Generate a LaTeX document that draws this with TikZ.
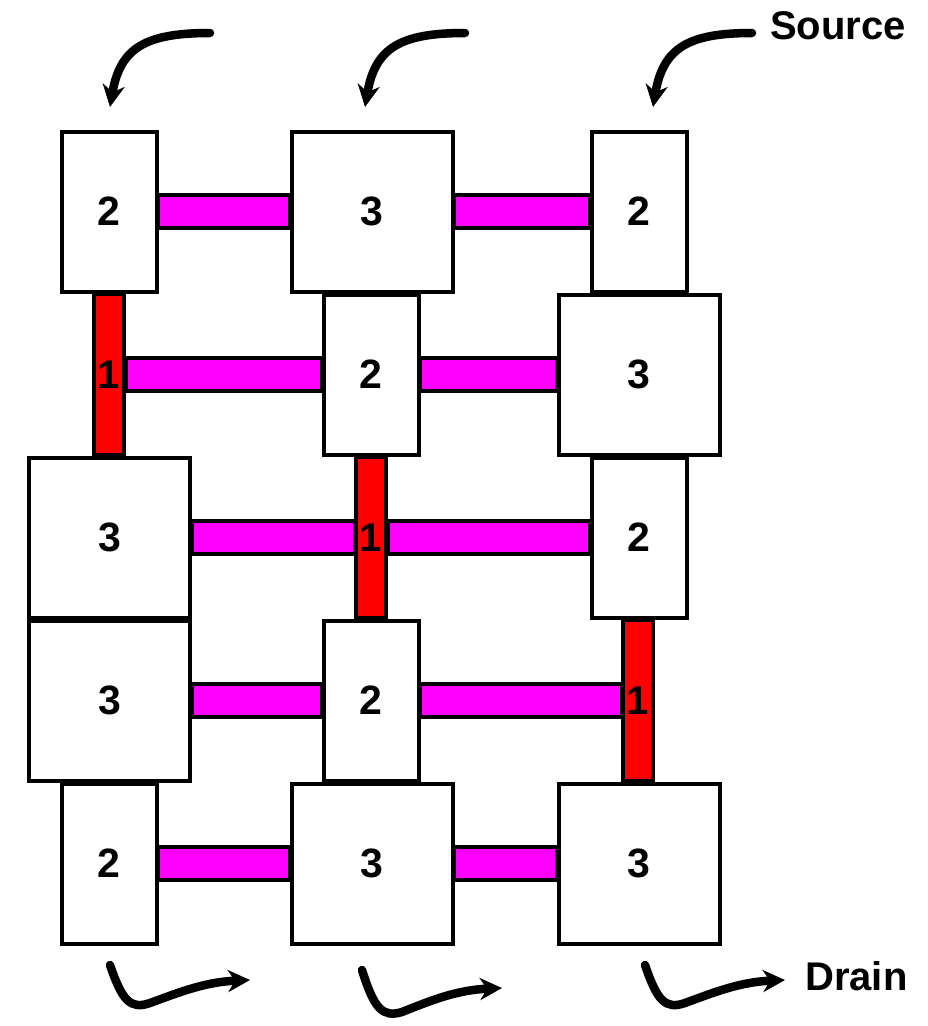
\documentclass[tikz,border=0pt]{standalone}
\usepackage{fontspec}
\setmainfont{Liberation Sans}
\usetikzlibrary{arrows.meta,calc,backgrounds}
\definecolor{magfill}{RGB}{255,0,255}
\definecolor{redfill}{RGB}{255,0,0}
\begin{document}
\begin{tikzpicture}[x=1pt,y=-1pt,
  cell/.style={draw=black, line width=4pt, fill=white, minimum height=160pt, inner sep=0pt, font=\fontsize{41}{48}\selectfont\bfseries},
  nbox/.style={cell, minimum width=95pt},
  wbox/.style={cell, minimum width=161pt},
  redbar/.style={draw=black, line width=3.5pt, fill=redfill, minimum width=30pt, minimum height=160pt, inner sep=0pt, font=\fontsize{40}{48}\selectfont\bfseries},
  magbar/.style={draw=black, line width=3.5pt, fill=magfill},
  flow/.style={line width=8.5pt, line cap=round, -{Stealth[length=22pt,width=22pt,inset=7pt]}},
  lab/.style={inner sep=0pt, font=\fontsize{40}{48}\selectfont\bfseries}]
\useasboundingbox (0,0) rectangle (928,1026);
% red bars
\node[redbar] (r21) at (109,374.5) {1};
\node[redbar] (r32) at (371,537.5) {1};
\node[redbar] (r43) at (638,700.5) {1};
% boxes
\node[nbox] (b11) at (109,211.5) {2};
\node[wbox] (b12) at (372,211.5) {3};
\node[nbox] (b13) at (639,211.5) {2};
\node[nbox] (b22) at (371,374.5) {2};
\node[wbox] (b23) at (639,374.5) {3};
\node[wbox] (b31) at (109.5,537.5) {3};
\node[nbox] (b33) at (639,537.5) {2};
\node[wbox] (b41) at (109.5,700.5) {3};
\node[nbox] (b42) at (371,700.5) {2};
\node[nbox] (b51) at (109,863.5) {2};
\node[wbox] (b52) at (372,863.5) {3};
\node[wbox] (b53) at (639,863.5) {3};
% magenta bars
\begin{scope}[on background layer]
\foreach \a/\b in {b11/b12,b12/b13,r21/b22,b22/b23,b31/r32,r32/b33,b41/b42,b42/r43,b51/b52,b52/b53}
  \draw[magbar] ($(\a.east)+(0,-16.5)$) rectangle ($(\b.west)+(0,16.5)$);
\end{scope}
% source arrows
\coordinate (s1a) at (210,33); \coordinate (s1b) at (110,107);
\coordinate (s2a) at (465,33); \coordinate (s2b) at (365,107);
\coordinate (s3a) at (752,33); \coordinate (s3b) at (653,107);
\draw[flow] (s1a) .. controls (145,33) and (120,48) .. (s1b);
\draw[flow] (s2a) .. controls (400,33) and (375,48) .. (s2b);
\draw[flow] (s3a) .. controls (688,33) and (663,48) .. (s3b);
% drain arrows
\coordinate (d1a) at (110,965); \coordinate (d1b) at (250,980);
\coordinate (d2a) at (362,970); \coordinate (d2b) at (502,988);
\coordinate (d3a) at (645,965); \coordinate (d3b) at (785,980);
\draw[flow] (d1a) .. controls (122,1000) and (130,1010) .. (150,1003) .. controls (180,992) and (205,982) .. (d1b);
\draw[flow] (d2a) .. controls (374,1008) and (382,1018) .. (402,1012) .. controls (432,1000) and (457,990) .. (d2b);
\draw[flow] (d3a) .. controls (657,1000) and (665,1010) .. (685,1003) .. controls (715,992) and (740,982) .. (d3b);
% labels
\node[lab, anchor=base west] (src) at (770,39) {Source};
\node[lab, anchor=base west] (drn) at (805,990) {Drain};
\end{tikzpicture}
\end{document}
